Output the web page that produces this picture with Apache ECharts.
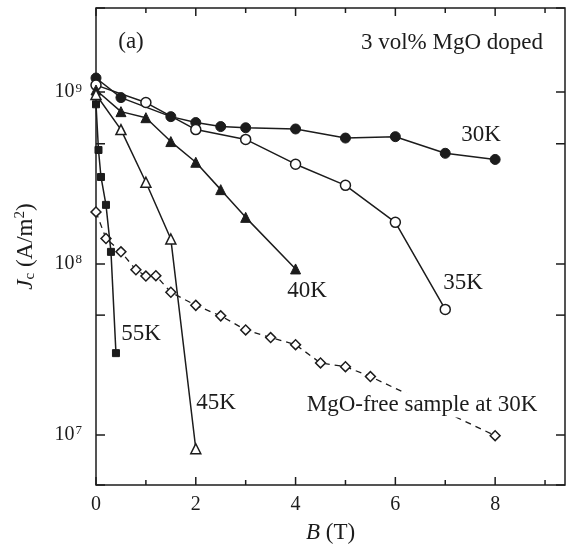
<!DOCTYPE html>
<html>
<head>
<meta charset="utf-8">
<script src="https://cdn.jsdelivr.net/npm/echarts@6/dist/echarts.min.js"></script>
<style>
  html, body { margin: 0; padding: 0; background: #fff; }
  #chart { width: 569px; height: 551px; }
</style>
</head>
<body>
<div id="chart"></div>
<script>
// field B (T) and Jc (A/m2)
const b30 = [0, 0.5, 1.5, 2, 2.5, 3, 4, 5, 6, 7, 8];
const jc30 = [1.21e9, 9.3e8, 7.2e8, 6.65e8, 6.3e8, 6.2e8, 6.1e8, 5.4e8, 5.5e8, 4.4e8, 4.05e8];
const b35 = [0, 1, 2, 3, 4, 5, 6, 7];
const jc35 = [1.1e9, 8.7e8, 6.05e8, 5.3e8, 3.8e8, 2.86e8, 1.74e8, 5.4e7];
const b40 = [0, 0.5, 1, 1.5, 2, 2.5, 3, 4];
const jc40 = [1.03e9, 7.7e8, 7.1e8, 5.15e8, 3.9e8, 2.7e8, 1.86e8, 9.3e7];
const b45 = [0, 0.5, 1, 1.5, 2];
const jc45 = [9.7e8, 6.05e8, 2.98e8, 1.39e8, 8.3e6];
const b55 = [0, 0.05, 0.1, 0.2, 0.3, 0.4];
const jc55 = [8.5e8, 4.6e8, 3.2e8, 2.2e8, 1.17e8, 3.0e7];
const bFree = [0, 0.2, 0.5, 0.8, 1, 1.2, 1.5, 2, 2.5, 3, 3.5, 4, 4.5, 5, 5.5, 8];
const jcFree = [2.0e8, 1.4e8, 1.17e8, 9.2e7, 8.45e7, 8.5e7, 6.8e7, 5.7e7, 4.95e7, 4.1e7, 3.7e7, 3.36e7, 2.63e7, 2.5e7, 2.19e7, 9.9e6];
// tick positions
const majorB = [0, 2, 4, 6, 8];
const minorB = [1, 3, 5, 7, 9];
const minorJc = [5e7, 5e8];

const ink = "#1c1c1c";
const serif = "Liberation Serif";

const pairs = (xs, ys) => xs.map((x, i) => [x, ys[i]]);

const chart = echarts.init(document.getElementById("chart"));

const yBase = {
  type: "log",
  logBase: 10,
  min: 5.1e6,
  max: 3.1e9,
  offset: 0,
  axisLine: { show: false, onZero: false },
  splitLine: { show: false },
  axisTick: { inside: true, length: 9, lineStyle: { color: ink, width: 1.5 } },
  axisLabel: { show: false }
};

const line = (name, data, symbol, filled, size) => ({
  name,
  type: "line",
  data,
  symbol,
  symbolSize: size,
  lineStyle: { color: ink, width: 1.5 },
  itemStyle: filled
    ? { color: ink, borderColor: ink, borderWidth: 1 }
    : { color: "#fff", borderColor: ink, borderWidth: 1.5 },
  z: 3
});

// short tick marks drawn through the axes' scales
const tickSeries = (data, draw) => ({
  type: "custom",
  silent: true,
  z: 4,
  clip: false,
  data,
  renderItem(params, api) {
    const p = api.coord([api.value(0), api.value(1)]);
    const cs = params.coordSys;
    const st = { stroke: ink, lineWidth: 1.5 };
    return { type: "group", children: draw(p, cs).map(shape => ({ type: "line", shape, style: st })) };
  }
});

chart.setOption({
  animation: false,
  backgroundColor: "#fff",
  grid: { left: 96, right: 4, top: 8, bottom: 66, show: true, borderColor: ink, borderWidth: 1.5, backgroundColor: "transparent" },
  xAxis: {
    type: "value",
    min: 0,
    max: 9.4,
    interval: 2,
    position: "bottom",
    axisLine: { show: false, onZero: false },
    splitLine: { show: false },
    axisTick: { show: false },
    axisLabel: {
      show: true,
      margin: 10,
      color: ink,
      fontFamily: serif,
      fontSize: 20,
      formatter: v => (v % 2 === 0 ? String(v) : "")
    },
    name: "{i|B}{n| (T)}",
    nameLocation: "middle",
    nameGap: 36,
    nameTextStyle: {
      rich: {
        i: { fontFamily: serif, fontStyle: "italic", fontSize: 23, color: ink },
        n: { fontFamily: serif, fontSize: 23, color: ink }
      }
    }
  },
  yAxis: [
    {
      ...yBase,
      position: "left",
      axisLabel: {
        show: true,
        margin: 14,
        formatter: v => {
          const e = Math.log10(v);
          const r = Math.round(e);
          if (Math.abs(e - r) > 0.01) return "";
          return "{b|10}{s|" + r + "}";
        },
        rich: {
          b: { fontFamily: serif, fontSize: 20, color: ink },
          s: { fontFamily: serif, fontSize: 13, color: ink, verticalAlign: "top", padding: [0, 0, 8, 1] }
        }
      },
      name: "{i|J}{sub|c}{n| (A/m}{sup|2}{n|)}",
      nameLocation: "middle",
      nameRotate: 90,
      nameGap: 58,
      nameTextStyle: {
        rich: {
          i: { fontFamily: serif, fontStyle: "italic", fontSize: 23, color: ink },
          n: { fontFamily: serif, fontSize: 23, color: ink },
          sub: { fontFamily: serif, fontSize: 15, color: ink, verticalAlign: "bottom", padding: [8, 0, 0, 0] },
          sup: { fontFamily: serif, fontSize: 15, color: ink, verticalAlign: "top", padding: [0, 0, 10, 0] }
        }
      }
    },
    { ...yBase, position: "right" }
  ],
  series: [
    line("30K", pairs(b30, jc30), "circle", true, 10),
    line("35K", pairs(b35, jc35), "circle", false, 10),
    line("40K", pairs(b40, jc40), "triangle", true, 10),
    line("45K", pairs(b45, jc45), "triangle", false, 10),
    line("55K", pairs(b55, jc55), "rect", true, 7),
    {
      ...line("MgO-free", pairs(bFree, jcFree), "rect", false, 7),
      symbolRotate: 45,
      lineStyle: { color: ink, width: 1.3, type: [6, 5] },
      z: 2
    },
    tickSeries(minorJc.map(v => [0, v]), (p, cs) => [
      { x1: cs.x, y1: p[1], x2: cs.x + 9, y2: p[1] },
      { x1: cs.x + cs.width, y1: p[1], x2: cs.x + cs.width - 9, y2: p[1] }
    ]),
    tickSeries(majorB.map(v => [v, 1e8]), (p, cs) => [
      { x1: p[0], y1: cs.y + cs.height, x2: p[0], y2: cs.y + cs.height - 8 },
      { x1: p[0], y1: cs.y, x2: p[0], y2: cs.y + 8 }
    ]),
    tickSeries(minorB.map(v => [v, 1e8]), (p, cs) => [
      { x1: p[0], y1: cs.y + cs.height, x2: p[0], y2: cs.y + cs.height - 5 },
      { x1: p[0], y1: cs.y, x2: p[0], y2: cs.y + 5 }
    ])
  ],
  graphic: [
    ["(a)", 131, 42],
    ["3 vol% MgO doped", 452, 43],
    ["30K", 481, 135],
    ["35K", 463, 283],
    ["40K", 307, 291],
    ["55K", 141, 334],
    ["45K", 216, 403]
  ].map(([text, x, y]) => ({
    type: "text",
    x,
    y,
    z: 10,
    style: { text, font: '23px "Liberation Serif"', fill: ink, align: "center", verticalAlign: "middle" }
  })).concat([
    {
      type: "text",
      x: 422,
      y: 405,
      z: 10,
      style: {
        text: "MgO-free sample at 30K",
        font: '23px "Liberation Serif"',
        fill: ink,
        align: "center",
        verticalAlign: "middle",
        backgroundColor: "#fff",
        padding: [1, 3]
      }
    }
  ])
});
</script>
</body>
</html>
